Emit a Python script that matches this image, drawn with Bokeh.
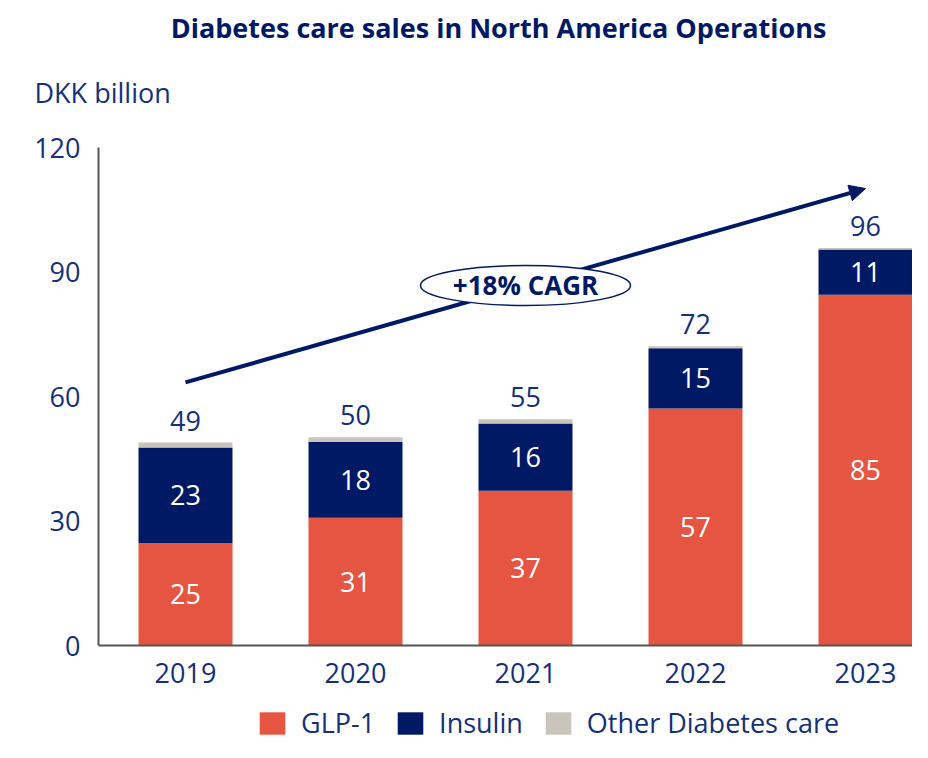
from bokeh.plotting import figure
from bokeh.models import (Range1d, FixedTicker, Arrow, NormalHead, Legend,
                          LegendItem, ColumnDataSource, Label)
from bokeh.core.properties import value
from bokeh.embed import file_html
from bokeh.resources import INLINE

# ---------------- data ----------------
years = ["2019", "2020", "2021", "2022", "2023"]
glp1 = [24.7, 30.8, 37.3, 57.1, 84.5]
insulin = [23.0, 18.3, 16.2, 14.5, 10.9]
other = [1.2, 1.1, 1.0, 0.5, 0.4]
glp1_labels = ["25", "31", "37", "57", "85"]
insulin_labels = ["23", "18", "16", "15", "11"]
total_labels = ["49", "50", "55", "72", "96"]
y_ticks = [0, 30, 60, 90, 120]
series_names = ["GLP-1", "Insulin", "Other Diabetes care"]
cagr_text = "+18% CAGR"
cagr_start_value = 63.4
cagr_end_value = 110.1
title_text = "Diabetes care sales in North America Operations"
unit_text = "DKK billion"

# ---------------- styles ----------------
C_GLP = "#E65541"
C_INS = "#001965"
C_OTH = "#C9C4BC"
C_TXT = "#14307A"
C_TITLE = "#001965"
FONT = "Open Sans"
FS = "27px"

W, H = 912, 742
AX_LEFT_PX = 98       # pixel column of the y axis line
ZERO_PX = 645         # pixel row of y = 0
TOP_PX = 147          # pixel row of y = 120
PXY = (ZERO_PX - TOP_PX) / 120.0
PXX = 170.0
X_AX = -87 / PXX                       # data x of the y axis line
XMIN = X_AX - AX_LEFT_PX / PXX         # frame covers the whole canvas
XMAX = X_AX + (W - AX_LEFT_PX) / PXX
YMAX = ZERO_PX / PXY
YMIN = -(H - ZERO_PX) / PXY


def dx(px):
    return X_AX + (px - AX_LEFT_PX) / PXX


def dy(py):
    return (ZERO_PX - py) / PXY


x = list(range(len(years)))
g_top = glp1
i_bot = glp1
i_top = [a + b for a, b in zip(glp1, insulin)]
o_bot = i_top
o_top = [a + b for a, b in zip(i_top, other)]

src = ColumnDataSource(dict(
    x=x, g_top=g_top, i_bot=i_bot, i_top=i_top, o_bot=o_bot, o_top=o_top,
    g_mid=[t / 2 for t in g_top],
    i_mid=[(a + b) / 2 for a, b in zip(i_bot, i_top)],
    glab=glp1_labels, ilab=insulin_labels, tlab=total_labels,
))

p = figure(width=W, height=H, x_range=Range1d(XMIN, XMAX), y_range=Range1d(YMIN, YMAX),
           output_backend="svg", toolbar_location=None, title=None,
           min_border_left=0, min_border_right=0, min_border_top=0, min_border_bottom=0)
p.outline_line_color = None
p.xgrid.grid_line_color = None
p.ygrid.grid_line_color = None

BW = 94 / PXX
r_g = p.vbar(x="x", bottom=0, top="g_top", width=BW, source=src, fill_color=C_GLP, line_color=None)
r_i = p.vbar(x="x", bottom="i_bot", top="i_top", width=BW, source=src, fill_color=C_INS, line_color=None)
r_o = p.vbar(x="x", bottom="o_bot", top="o_top", width=BW, source=src, fill_color=C_OTH, line_color=None)

p.text(x="x", y="g_mid", text="glab", source=src, text_align="center", text_baseline="middle",
       text_color="white", text_font=value(FONT), text_font_size=FS)
p.text(x="x", y="i_mid", text="ilab", source=src, text_align="center", text_baseline="middle",
       text_color="white", text_font=value(FONT), text_font_size=FS)
p.text(x="x", y="o_top", text="tlab", source=src, text_align="center", text_baseline="bottom",
       y_offset=-12, text_color=C_TXT, text_font=value(FONT), text_font_size=FS)

# axes (drawn at fixed locations inside the full-canvas frame)
for ax in (p.xaxis[0], p.yaxis[0]):
    ax.axis_line_color = "#555555"
    ax.axis_line_width = 2
    ax.major_tick_line_color = None
    ax.minor_tick_line_color = None
    ax.major_tick_out = 0
    ax.major_tick_in = 0
    ax.minor_tick_out = 0
    ax.major_label_text_font = FONT
    ax.major_label_text_font_size = FS
    ax.major_label_text_color = C_TXT
p.yaxis.ticker = FixedTicker(ticks=y_ticks)
p.yaxis.bounds = (0, 120)
p.yaxis.fixed_location = X_AX
p.yaxis.major_label_standoff = 18
p.xaxis.ticker = FixedTicker(ticks=x)
p.xaxis.bounds = (X_AX, XMAX)
p.xaxis.fixed_location = 0
p.xaxis.major_label_overrides = {i: y for i, y in zip(x, years)}
p.xaxis.major_label_standoff = 17

# CAGR arrow
arrow = Arrow(x_start=x[0], y_start=cagr_start_value, x_end=x[-1], y_end=cagr_end_value,
              line_color=C_INS, line_width=4,
              end=NormalHead(size=16, fill_color=C_INS, line_color=C_INS, line_width=1),
              level="underlay")
p.add_layout(arrow)
mid_x = (x[0] + x[-1]) / 2
mid_y = (cagr_start_value + cagr_end_value) / 2
p.ellipse(x=[mid_x], y=[mid_y], width=210, height=40, width_units="screen", height_units="screen",
          fill_color="white", line_color=C_INS, line_width=1.5)
p.text(x=[mid_x], y=[mid_y], text=[cagr_text], text_align="center", text_baseline="middle",
       text_color=C_TITLE, text_font=value(FONT), text_font_style="bold", text_font_size="26px")

# title and unit
p.add_layout(Label(x=dx(498), y=dy(27), text=title_text, text_align="center", text_baseline="middle",
                   text_color=C_TITLE, text_font=FONT, text_font_style="bold", text_font_size="27px"))
p.add_layout(Label(x=dx(34), y=dy(92), text=unit_text, text_align="left", text_baseline="middle",
                   text_color=C_TXT, text_font=FONT, text_font_style="normal", text_font_size="27px"))

# legend at the bottom of the frame
legend = Legend(items=[LegendItem(label=series_names[0], renderers=[r_g]),
                       LegendItem(label=series_names[1], renderers=[r_i]),
                       LegendItem(label=series_names[2], renderers=[r_o])],
                orientation="horizontal", location=(256, 1),
                glyph_width=32, glyph_height=28, label_height=28, label_standoff=13, spacing=19,
                padding=0, margin=0, border_line_color=None, background_fill_alpha=0,
                label_text_font=FONT, label_text_font_size=FS, label_text_color=C_TXT)
p.add_layout(legend)

open("out.html", "w").write(file_html(p, INLINE))
